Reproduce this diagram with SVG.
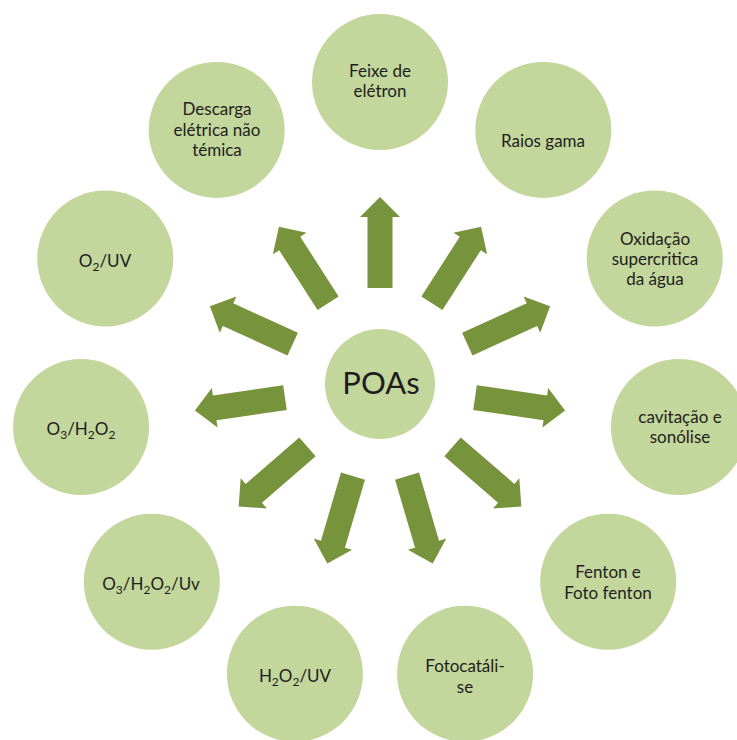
<svg xmlns="http://www.w3.org/2000/svg" xmlns:xlink="http://www.w3.org/1999/xlink" width="737" height="740" viewBox="0 0 737 740">
<style>
.c{fill:#c3d69b}
.t{font-family:Lato,"Liberation Sans",sans-serif;font-size:17px;fill:#1e1e1e;text-anchor:middle}
.s{font-size:12px}
.a{fill:#77933c}
</style>
<defs>
<path id="arr" class="a" d="M -12.5 -96 L -12.5 -167 L -20 -167 L 0 -187 L 20 -167 L 12.5 -167 L 12.5 -96 Z"/>
</defs>
<rect width="737" height="740" fill="#fff"/>
<g id="connectors">
<use xlink:href="#arr" transform="translate(380 384) rotate(0)"/>
<use xlink:href="#arr" transform="translate(380 384) rotate(32.727)"/>
<use xlink:href="#arr" transform="translate(380 384) rotate(65.455)"/>
<use xlink:href="#arr" transform="translate(380 384) rotate(98.182)"/>
<use xlink:href="#arr" transform="translate(380 384) rotate(130.909)"/>
<use xlink:href="#arr" transform="translate(380 384) rotate(163.636)"/>
<use xlink:href="#arr" transform="translate(380 384) rotate(196.364)"/>
<use xlink:href="#arr" transform="translate(380 384) rotate(229.091)"/>
<use xlink:href="#arr" transform="translate(380 384) rotate(261.818)"/>
<use xlink:href="#arr" transform="translate(380 384) rotate(294.545)"/>
<use xlink:href="#arr" transform="translate(380 384) rotate(327.273)"/>
</g>
<g id="poas">
<circle class="c" cx="380" cy="384" r="55"/>
<text class="t" x="381" y="394" style="font-size:31px">POAs</text>
</g>
<g id="feixe">
<circle class="c" cx="380" cy="82" r="68"/>
<text class="t" x="380" y="77">Feixe de</text>
<text class="t" x="380" y="97">elétron</text>
</g>
<g id="raios">
<circle class="c" cx="543.3" cy="129.9" r="68"/>
<text class="t" x="543" y="147">Raios gama</text>
</g>
<g id="oxidacao">
<circle class="c" cx="654.7" cy="258.5" r="68"/>
<text class="t" x="655" y="245">Oxidação</text>
<text class="t" x="655" y="265">supercritica</text>
<text class="t" x="655" y="285">da água</text>
</g>
<g id="cavitacao">
<circle class="c" cx="678.9" cy="427" r="68"/>
<text class="t" x="680" y="423">cavitação e</text>
<text class="t" x="680" y="443">sonólise</text>
</g>
<g id="fenton">
<circle class="c" cx="608.2" cy="581.8" r="68"/>
<text class="t" x="608" y="578">Fenton e</text>
<text class="t" x="608" y="599">Foto fenton</text>
</g>
<g id="fotocatalise">
<circle class="c" cx="465.1" cy="673.8" r="68"/>
<text class="t" x="465" y="672">Fotocatáli-</text>
<text class="t" x="465" y="693">se</text>
</g>
<g id="h2o2uv">
<circle class="c" cx="294.9" cy="673.8" r="68"/>
<text class="t" x="295" y="682">H<tspan class="s" dy="4">2</tspan><tspan dy="-4">O</tspan><tspan class="s" dy="4">2</tspan><tspan dy="-4">/UV</tspan></text>
</g>
<g id="o3h2o2uv">
<circle class="c" cx="151.8" cy="581.8" r="68"/>
<text class="t" x="151" y="590">O<tspan class="s" dy="4">3</tspan><tspan dy="-4">/H</tspan><tspan class="s" dy="4">2</tspan><tspan dy="-4">O</tspan><tspan class="s" dy="4">2</tspan><tspan dy="-4">/Uv</tspan></text>
</g>
<g id="o3h2o2">
<circle class="c" cx="81.1" cy="427" r="68"/>
<text class="t" x="81" y="435">O<tspan class="s" dy="4">3</tspan><tspan dy="-4">/H</tspan><tspan class="s" dy="4">2</tspan><tspan dy="-4">O</tspan><tspan class="s" dy="4">2</tspan></text>
</g>
<g id="o2uv">
<circle class="c" cx="105.3" cy="258.5" r="68"/>
<text class="t" x="105" y="267">O<tspan class="s" dy="4">2</tspan><tspan dy="-4">/UV</tspan></text>
</g>
<g id="descarga">
<circle class="c" cx="216.7" cy="129.9" r="68"/>
<text class="t" x="217" y="115">Descarga</text>
<text class="t" x="217" y="136">elétrica não</text>
<text class="t" x="217" y="156">témica</text>
</g>
</svg>
